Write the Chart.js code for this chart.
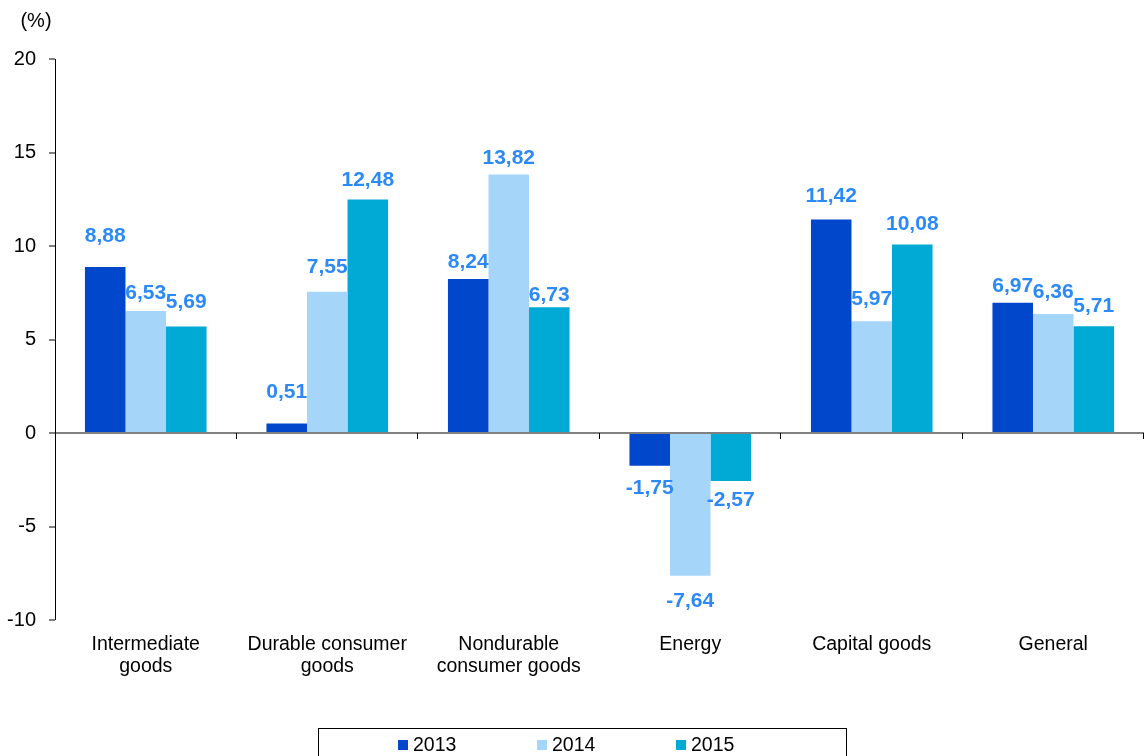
<!DOCTYPE html>
<html>
<head>
<meta charset="utf-8">
<script src="https://cdn.jsdelivr.net/npm/chart.js@4.4.0/dist/chart.umd.min.js"></script>
<style>
  html, body { margin: 0; padding: 0; background: #fff; }
  canvas { display: block; }
</style>
</head>
<body>
<canvas id="chart" width="1144" height="756"></canvas>
<script>
(function () {
  var categories = [
    ['Intermediate', 'goods'],
    ['Durable consumer', 'goods'],
    ['Nondurable', 'consumer goods'],
    'Energy',
    'Capital goods',
    'General'
  ];
  var years = ['2013', '2014', '2015'];
  var values2013 = [8.88, 0.51, 8.24, -1.75, 11.42, 6.97];
  var values2014 = [6.53, 7.55, 13.82, -7.64, 5.97, 6.36];
  var values2015 = [5.69, 12.48, 6.73, -2.57, 10.08, 5.71];
  var yTicks = [-10, -5, 0, 5, 10, 15, 20];

  var colors = ['#0047CC', '#A6D5FA', '#00AAD4'];
  var labelColor = '#2B8AF7';
  var fontFamily = 'Arial, "Liberation Sans", sans-serif';

  // distance of each value label from the end of its bar (px)
  var labelGap = [
    [31, 31, 17, 22, 23, 16],
    [18, 25, 16, 25, 22, 22],
    [24, 19, 12, 19, 20, 20]
  ];

  function fmt(v) {
    return v.toFixed(2).replace('.', ',');
  }

  var extras = {
    id: 'extras',
    afterDatasetsDraw: function (chart) {
      var ctx = chart.ctx;
      var area = chart.chartArea;
      var y = chart.scales.y;
      var zeroY = y.getPixelForValue(0);

      // small ticks on the zero line between categories
      ctx.save();
      ctx.strokeStyle = '#000';
      ctx.lineWidth = 1;
      var step = (area.right - area.left) / categories.length;
      for (var i = 1; i <= categories.length; i++) {
        var bx = Math.round(area.left + step * i) - 0.5;
        ctx.beginPath();
        ctx.moveTo(bx, zeroY);
        ctx.lineTo(bx, zeroY + 6);
        ctx.stroke();
      }
      ctx.restore();

      // value labels
      ctx.save();
      ctx.font = 'bold 21px ' + fontFamily;
      ctx.fillStyle = labelColor;
      ctx.textAlign = 'center';
      ctx.textBaseline = 'middle';
      chart.data.datasets.forEach(function (ds, di) {
        var meta = chart.getDatasetMeta(di);
        meta.data.forEach(function (el, i) {
          var v = ds.data[i];
          var gap = labelGap[di][i];
          var ty = v >= 0 ? el.y - gap : el.y + gap;
          ctx.fillText(fmt(v), el.x, ty);
        });
      });
      ctx.restore();

      // unit label
      ctx.save();
      ctx.font = '20px ' + fontFamily;
      ctx.fillStyle = '#000';
      ctx.textAlign = 'center';
      ctx.textBaseline = 'middle';
      ctx.fillText('(%)', area.left - 19, area.top - 38);
      ctx.restore();

      // legend box
      ctx.save();
      ctx.strokeStyle = '#000';
      ctx.lineWidth = 1;
      ctx.strokeRect(318.5, 728.5, 528, 40);
      ctx.font = '19.5px ' + fontFamily;
      ctx.textBaseline = 'middle';
      ctx.textAlign = 'left';
      chart.data.datasets.forEach(function (ds, di) {
        var lx = 398 + di * 139;
        ctx.fillStyle = ds.backgroundColor;
        ctx.fillRect(lx, 740, 10, 10);
        ctx.fillStyle = '#000';
        ctx.fillText(ds.label, lx + 15, 746);
      });
      ctx.restore();
    }
  };

  new Chart(document.getElementById('chart'), {
    type: 'bar',
    data: {
      labels: categories,
      datasets: [
        { label: years[0], data: values2013, backgroundColor: colors[0] },
        { label: years[1], data: values2014, backgroundColor: colors[1] },
        { label: years[2], data: values2015, backgroundColor: colors[2] }
      ]
    },
    options: {
      responsive: false,
      animation: false,
      layout: { padding: { top: 59, left: 0, right: 0, bottom: 0 } },
      datasets: {
        bar: { categoryPercentage: 0.67, barPercentage: 1.0 }
      },
      plugins: {
        legend: { display: false },
        tooltip: { enabled: false }
      },
      scales: {
        x: {
          grid: { display: false, drawTicks: false },
          border: { display: false },
          ticks: {
            color: '#000',
            padding: 14,
            font: { family: fontFamily, size: 19.5, lineHeight: '22px' },
            maxRotation: 0,
            autoSkip: false
          },
          afterFit: function (axis) { axis.height = 136; }
        },
        y: {
          min: -10,
          max: 20,
          afterBuildTicks: function (axis) {
            axis.ticks = yTicks.map(function (v) { return { value: v }; });
          },
          grid: {
            drawOnChartArea: true,
            drawTicks: true,
            tickLength: 6,
            tickColor: '#000',
            tickWidth: 1,
            lineWidth: function (c) { return c.tick && c.tick.value === 0 ? 2 : 0; },
            color: function (c) { return c.tick && c.tick.value === 0 ? '#808080' : 'rgba(0,0,0,0)'; }
          },
          border: { display: true, color: '#000', width: 1 },
          ticks: {
            color: '#000',
            padding: 13,
            font: { family: fontFamily, size: 20 }
          },
          afterFit: function (axis) { axis.width = 55; }
        }
      }
    },
    plugins: [extras]
  });
})();
</script>
</body>
</html>
